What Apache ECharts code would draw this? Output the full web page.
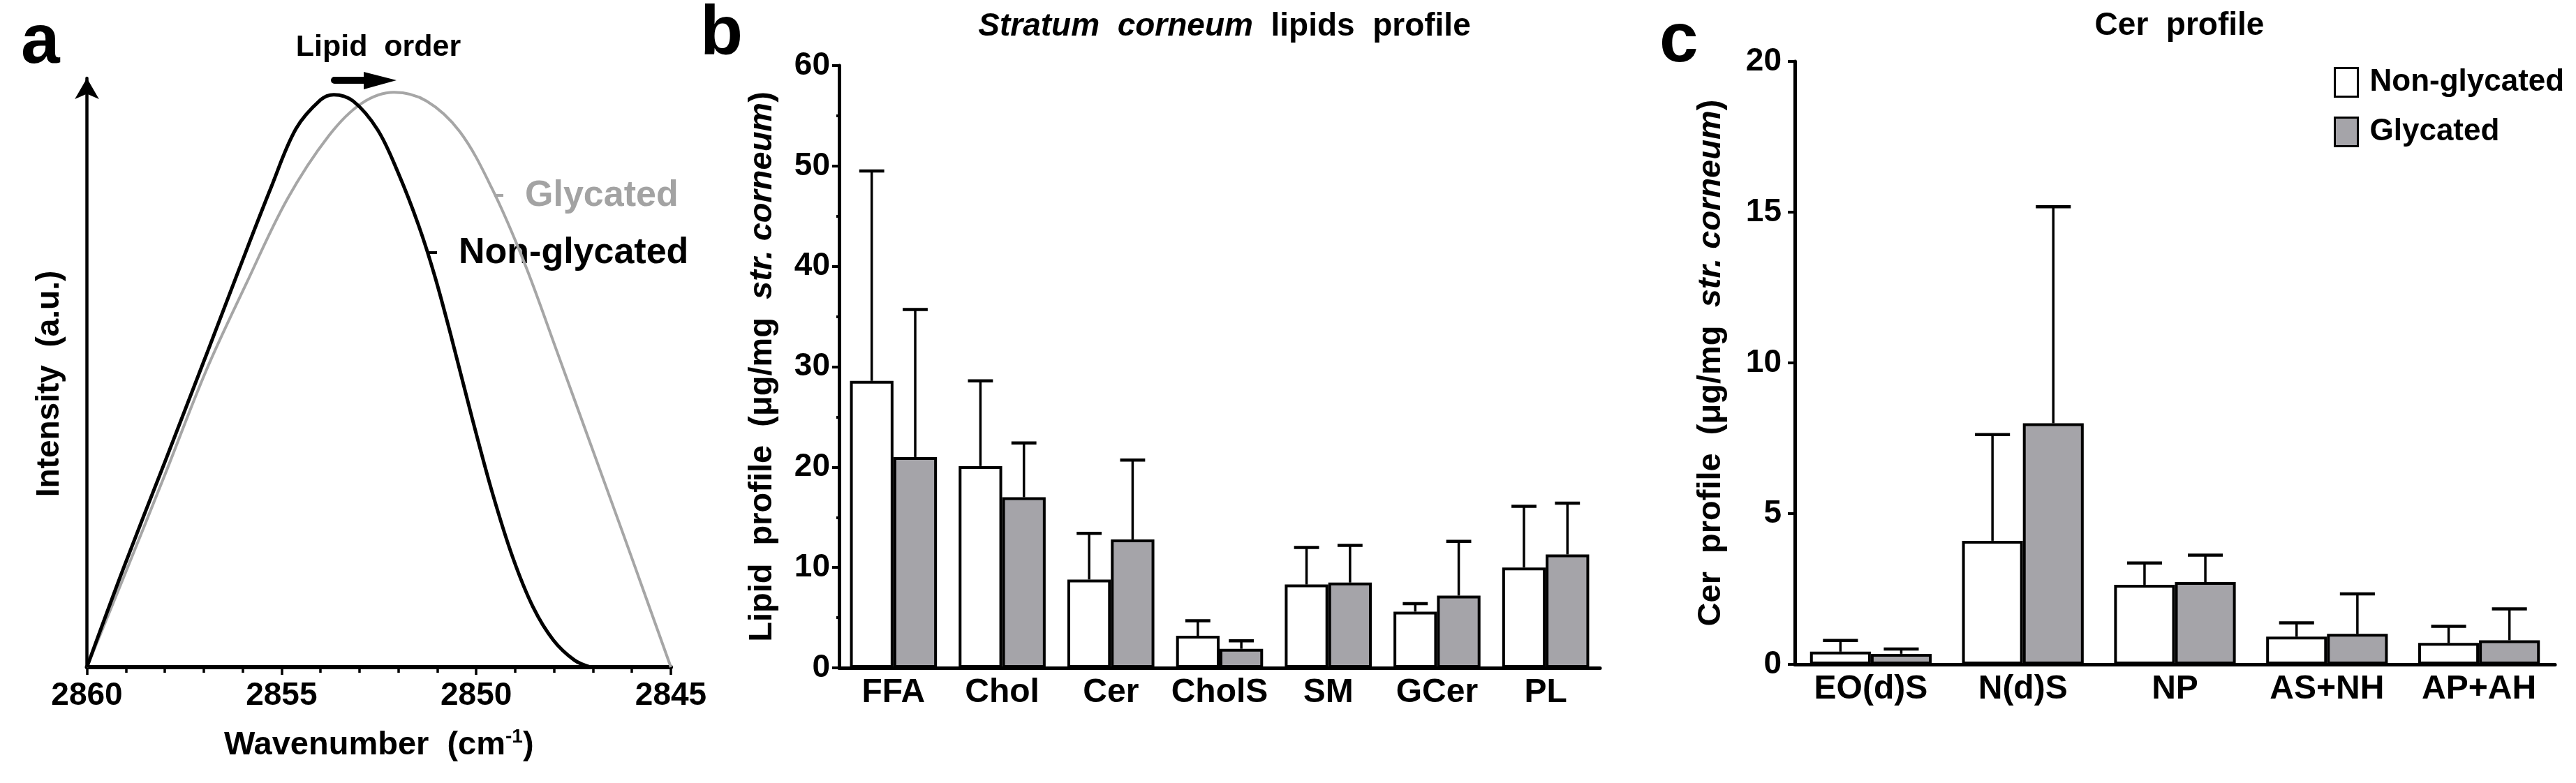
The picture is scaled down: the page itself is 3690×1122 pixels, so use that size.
<!DOCTYPE html>
<html><head><meta charset="utf-8">
<script src="https://cdn.jsdelivr.net/npm/echarts@6/dist/echarts.min.js"></script>
<style>html,body{margin:0;padding:0;background:#fff}#chart{width:3690px;height:1122px}</style>
</head><body><div id="chart"></div>
<script>
const FONT = '"Liberation Sans", Arial, Helvetica, sans-serif';
const GRAY = '#a5a4a9';

// Panel a: FTIR CH2 symmetric stretching band
const waveTicks = [2860, 2855, 2850, 2845];
const nonGlyWave = [2860, 2859.06, 2858.00, 2856.94, 2856.10, 2855.26, 2854.63, 2854.00, 2853.66, 2853.16, 2852.53, 2852.01, 2851.48, 2851.06, 2850.63, 2850.11, 2849.59, 2849.06, 2848.54, 2848.02, 2847.48, 2847.07];
const nonGlyIntensity = [0, 16.8, 34.8, 52.9, 67.4, 81.6, 91.4, 96.3, 97.2, 96.1, 91.2, 84.0, 75.0, 66.3, 55.8, 42.4, 29.7, 18.6, 10.2, 4.6, 1.2, 0];
const glyWave = [2860, 2859.06, 2858.00, 2856.94, 2855.90, 2854.85, 2853.79, 2852.95, 2852.11, 2851.27, 2850.42, 2849.59, 2848.76, 2847.91, 2847.07, 2846.23, 2845.59, 2845];
const glyIntensity = [0, 15.2, 32.6, 50.3, 65.2, 79.5, 90.2, 95.7, 97.6, 96.1, 90.9, 81.2, 68.6, 53.3, 38.0, 22.7, 10.9, 0];

// Panel b: Stratum corneum lipids profile
const lipidTicks = [0, 10, 20, 30, 40, 50, 60];
const lipidCats = ['FFA', 'Chol', 'Cer', 'CholS', 'SM', 'GCer', 'PL'];
const lipidNonGlyMean = [28.6, 20.1, 8.8, 3.2, 8.3, 5.6, 10.0];
const lipidNonGlySD   = [20.9, 8.5, 4.6, 1.5, 3.7, 0.8, 6.1];
const lipidGlyMean    = [21.0, 17.0, 12.8, 1.9, 8.5, 7.2, 11.3];
const lipidGlySD      = [14.7, 5.4, 7.9, 0.8, 3.7, 5.4, 5.1];

// Panel c: Cer profile
const cerTicks = [0, 5, 10, 15, 20];
const cerCats = ['EO(d)S', 'N(d)S', 'NP', 'AS+NH', 'AP+AH'];
const cerNonGlyMean = [0.42, 4.10, 2.64, 0.92, 0.71];
const cerNonGlySD   = [0.37, 3.52, 0.72, 0.46, 0.55];
const cerGlyMean    = [0.35, 8.00, 2.73, 1.01, 0.80];
const cerGlySD      = [0.16, 7.18, 0.89, 1.33, 1.04];

const seriesNames = ['Non-glycated', 'Glycated'];

function pairs(xs, ys) { return xs.map((x, i) => [x, ys[i]]); }
function errData(mean, sd) { return mean.map((m, i) => [i, m, m + sd[i]]); }
function errRender(side) {
  return function (params, api) {
    const i = api.value(0);
    const base = api.coord([i, api.value(1)]);
    const top = api.coord([i, api.value(2)]);
    const band = api.size([1, 0])[0];
    const x = base[0] + side * band * 0.2;
    const cap = band * 0.115;
    return { type: 'group', children: [
      { type: 'line', shape: { x1: x, y1: base[1], x2: x, y2: top[1] }, style: { stroke: '#000', lineWidth: 3.5 } },
      { type: 'line', shape: { x1: x - cap, y1: top[1], x2: x + cap, y2: top[1] }, style: { stroke: '#000', lineWidth: 4.5 } }
    ]};
  };
}

const labelStyle = { color: '#000', fontFamily: FONT, fontWeight: 'bold', fontSize: 46 };
const yNameRich = {
  n: { fontFamily: FONT, fontWeight: 'bold', fontSize: 47, color: '#000' },
  i: { fontFamily: FONT, fontWeight: 'bold', fontStyle: 'italic', fontSize: 47, color: '#000' }
};

function barAxisX(cats, gi) {
  return {
    type: 'category', gridIndex: gi, data: cats,
    axisLine: { lineStyle: { color: '#000', width: 5 } },
    axisTick: { alignWithLabel: true, length: 9, lineStyle: { color: '#000', width: 4 } },
    axisLabel: Object.assign({}, labelStyle, { margin: 12, fontSize: 48, interval: 0 }),
    splitLine: { show: false }
  };
}
function barAxisY(ticks, gi, name, gap, margin, minor) {
  return {
    type: 'value', gridIndex: gi, min: ticks[0], max: ticks[ticks.length - 1], interval: ticks[1] - ticks[0],
    axisLine: { show: true, lineStyle: { color: '#000', width: 5 } },
    axisTick: { show: true, length: 10, lineStyle: { color: '#000', width: 4 } },
    minorTick: { show: minor, splitNumber: 2, length: 4, lineStyle: { color: '#000', width: 4 } },
    axisLabel: Object.assign({ margin: margin }, labelStyle),
    splitLine: { show: false },
    name: name, nameLocation: 'middle', nameGap: gap, nameRotate: 90,
    nameTextStyle: { rich: yNameRich, fontFamily: FONT, fontWeight: 'bold', fontSize: 47 }
  };
}
function barSeries(name, data, gi, fill) {
  return {
    name: name, type: 'bar', xAxisIndex: gi, yAxisIndex: gi, data: data,
    barGap: '0%', barCategoryGap: '20%',
    itemStyle: { color: fill, borderColor: '#000', borderWidth: 4 },
    emphasis: { disabled: true }, z: 2
  };
}
function errSeries(name, mean, sd, gi, side) {
  return {
    name: name + ' SD', type: 'custom', xAxisIndex: gi, yAxisIndex: gi,
    data: errData(mean, sd), encode: { x: 0, y: [1, 2] },
    renderItem: errRender(side), z: 5, silent: true
  };
}

const chart = echarts.init(document.getElementById('chart'), null, { renderer: 'canvas' });
const option = {
  animation: false,
  backgroundColor: '#fff',
  textStyle: { fontFamily: FONT },
  title: [
    { text: '{i|Stratum  corneum}{n|  lipids  profile}', left: 1749, top: 10, textAlign: 'center',
      textStyle: { rich: {
        i: { fontFamily: FONT, fontWeight: 'bold', fontStyle: 'italic', fontSize: 46, color: '#000' },
        n: { fontFamily: FONT, fontWeight: 'bold', fontSize: 46, color: '#000' } } } },
    { text: 'Cer  profile', left: 3117, top: 9, textAlign: 'center',
      textStyle: { fontFamily: FONT, fontWeight: 'bold', fontSize: 46, color: '#000' } }
  ],
  legend: {
    data: seriesNames, orient: 'vertical', left: 3338, top: 91,
    itemWidth: 33, itemHeight: 41, itemGap: 27, icon: 'rect',
    itemStyle: { borderColor: '#000', borderWidth: 3 },
    textStyle: { fontFamily: FONT, fontWeight: 'bold', fontSize: 44, color: '#000', lineHeight: 41, padding: [0, 0, 0, 12] },
    selectedMode: false
  },
  grid: [
    { left: 124.5, right: 3690 - 961, top: 112, bottom: 1122 - 956 },
    { left: 1202, right: 3690 - 2292, top: 94, bottom: 1122 - 957 },
    { left: 2571, right: 3690 - 3660, top: 88, bottom: 1122 - 952 }
  ],
  xAxis: [
    {
      type: 'value', gridIndex: 0, inverse: true,
      min: waveTicks[waveTicks.length - 1], max: waveTicks[0], interval: waveTicks[0] - waveTicks[1],
      axisLine: { show: true, lineStyle: { color: '#000', width: 6 } },
      axisTick: { show: true, length: 11, lineStyle: { color: '#000', width: 3.5 } },
      minorTick: { show: true, splitNumber: 5, length: 8, lineStyle: { color: '#000', width: 3.5 } },
      axisLabel: Object.assign({ margin: 18, formatter: v => String(v) }, labelStyle),
      splitLine: { show: false },
      name: '{n|Wavenumber  (cm}{s|-1}{n|)}', nameLocation: 'middle', nameGap: 86,
      nameTextStyle: { rich: {
        n: { fontFamily: FONT, fontWeight: 'bold', fontSize: 47, color: '#000' },
        s: { fontFamily: FONT, fontWeight: 'bold', fontSize: 28, color: '#000', verticalAlign: 'top', padding: [0, 0, 24, 0] } } }
    },
    barAxisX(lipidCats, 1),
    barAxisX(cerCats, 2)
  ],
  yAxis: [
    {
      type: 'value', gridIndex: 0, min: 0, max: 100,
      axisLine: { show: true, symbol: ['none', 'arrow'], symbolSize: [26, 30], lineStyle: { color: '#000', width: 4.5 } },
      axisTick: { show: false }, axisLabel: { show: false }, splitLine: { show: false },
      name: 'Intensity  (a.u.)', nameLocation: 'middle', nameGap: 30, nameRotate: 90,
      nameTextStyle: { fontFamily: FONT, fontWeight: 'bold', fontSize: 46, color: '#000', padding: [0, 32, 0, 0] }
    },
    barAxisY(lipidTicks, 1, '{n|Lipid  profile  (μg/mg  }{i|str. corneum}{n|)}', 86, 13, true),
    barAxisY(cerTicks, 2, '{n|Cer  profile  (μg/mg  }{i|str. corneum}{n|)}', 96, 19, false)
  ],
  series: [
    { name: 'Glycated spectrum', type: 'line', xAxisIndex: 0, yAxisIndex: 0, data: pairs(glyWave, glyIntensity),
      smooth: 0.35, showSymbol: false, lineStyle: { color: '#a6a6a6', width: 4 }, z: 2, silent: true },
    { name: 'Non-glycated spectrum', type: 'line', xAxisIndex: 0, yAxisIndex: 0, data: pairs(nonGlyWave, nonGlyIntensity),
      smooth: 0.35, showSymbol: false, lineStyle: { color: '#000', width: 5 }, z: 3, silent: true },

    barSeries(seriesNames[0], lipidNonGlyMean, 1, '#ffffff'),
    barSeries(seriesNames[1], lipidGlyMean, 1, GRAY),
    errSeries(seriesNames[0], lipidNonGlyMean, lipidNonGlySD, 1, -1),
    errSeries(seriesNames[1], lipidGlyMean, lipidGlySD, 1, 1),

    barSeries(seriesNames[0], cerNonGlyMean, 2, '#ffffff'),
    barSeries(seriesNames[1], cerGlyMean, 2, GRAY),
    errSeries(seriesNames[0], cerNonGlyMean, cerNonGlySD, 2, -1),
    errSeries(seriesNames[1], cerGlyMean, cerGlySD, 2, 1)
  ],
  graphic: [
    { type: 'text', left: 30, top: 12, style: { text: 'a', fontFamily: FONT, fontWeight: 'bold', fontSize: 100, fill: '#000' } },
    { type: 'text', left: 1003, top: 0, style: { text: 'b', fontFamily: FONT, fontWeight: 'bold', fontSize: 100, fill: '#000' } },
    { type: 'text', left: 2377, top: 10, style: { text: 'c', fontFamily: FONT, fontWeight: 'bold', fontSize: 100, fill: '#000' } },
    { type: 'text', x: 542, y: 68, style: { text: 'Lipid  order', fontFamily: FONT, fontWeight: 'bold', fontSize: 43, fill: '#000', align: 'center', verticalAlign: 'middle' } },
    { type: 'line', shape: { x1: 479, y1: 115, x2: 526, y2: 115 }, style: { stroke: '#000', lineWidth: 10, lineCap: 'round' } },
    { type: 'polygon', shape: { points: [[521, 103], [568, 115], [521, 128]] }, style: { fill: '#000' } },
    { type: 'line', shape: { x1: 708, y1: 280, x2: 721, y2: 280 }, style: { stroke: '#a6a6a6', lineWidth: 4 } },
    { type: 'text', x: 752, y: 281, style: { text: 'Glycated', fontFamily: FONT, fontWeight: 'bold', fontSize: 52, fill: '#a3a3a3', align: 'left', verticalAlign: 'middle' } },
    { type: 'line', shape: { x1: 611, y1: 362, x2: 626, y2: 362 }, style: { stroke: '#000', lineWidth: 4 } },
    { type: 'text', x: 657, y: 363, style: { text: 'Non-glycated', fontFamily: FONT, fontWeight: 'bold', fontSize: 52, fill: '#000', align: 'left', verticalAlign: 'middle' } }
  ]
};
chart.setOption(option);
</script></body></html>
